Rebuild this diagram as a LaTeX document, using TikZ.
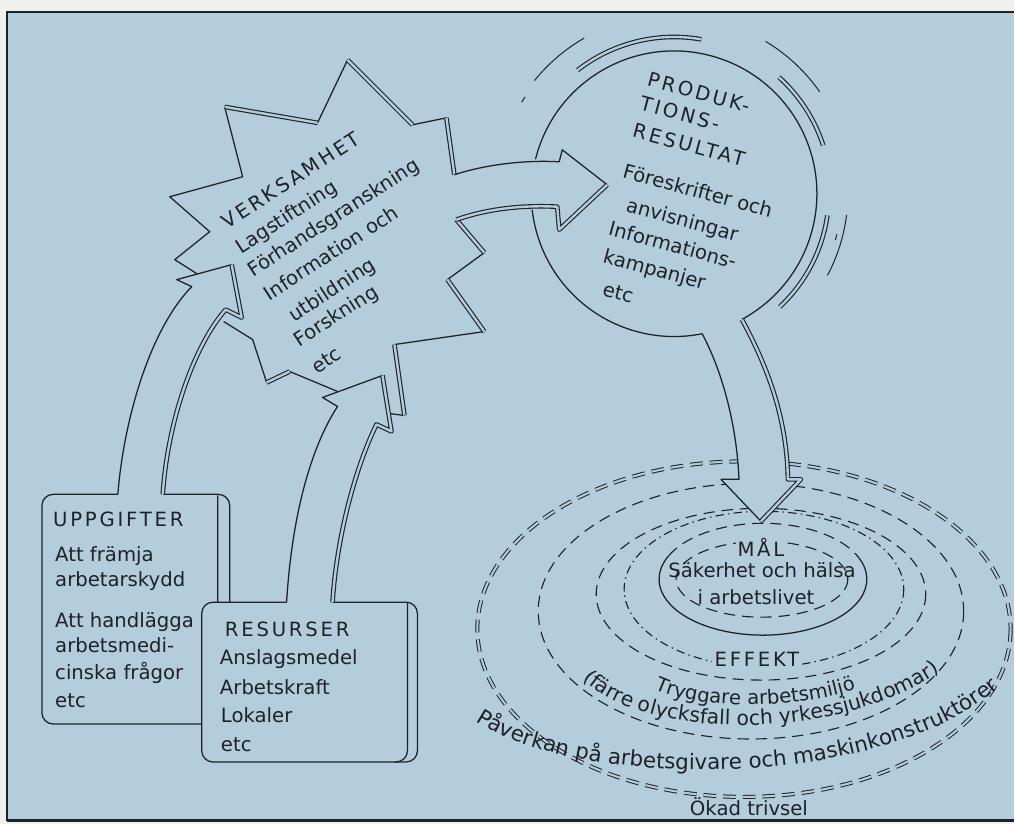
\documentclass[tikz,border=0pt]{standalone}
\usepackage{fontspec}
\setmainfont{DejaVu Sans}
\usetikzlibrary{decorations.text}
\definecolor{paper}{RGB}{240,240,236}
\definecolor{panel}{RGB}{180,205,221}
\definecolor{ink}{RGB}{30,33,38}
\newcommand{\lblfont}{\fontsize{14}{17}\selectfont}
\newcommand{\capfont}{\fontsize{14}{17}\selectfont\addfontfeatures{LetterSpace=14}}
\tikzset{
  outline/.style={draw=ink, line width=0.9pt, line join=round},
  twin/.style={draw=ink, line width=0.8pt, line join=round, double=panel, double distance=1.7pt},
  lbl/.style={text=ink, font=\lblfont, inner sep=0pt, anchor=base west},
  caplbl/.style={lbl, font=\capfont},
  clbl/.style={text=ink, font=\lblfont, inner sep=0pt, anchor=base},
  ringdash/.style={draw=ink, line width=0.8pt, dash pattern=on 8pt off 5pt},
  ringdot/.style={draw=ink, line width=0.8pt, dash pattern=on 6pt off 3pt on 1pt off 3pt},
  ringtwin/.style={draw=ink, line width=0.7pt, double=panel, double distance=1.5pt, dash pattern=on 9pt off 5pt},
  pathtext/.style={decorate, decoration={text along path, text align=left, text={#1}}},
}
\begin{document}
\begin{tikzpicture}[x=0.025cm, y=-0.025cm]
% paper and blue panel
\fill[paper] (0,0) rectangle (1015,825);
\fill[panel] (7,12) rectangle (1015,822);
\draw[ink, line width=1.1pt] (1015,12) -- (7,12) -- (7,822);
\draw[ink, line width=2pt] (7,822) -- (1015,822);

% ---------- concentric rings (effects) ----------
\draw[ringtwin] (745,630) ellipse [x radius=267, y radius=168];
\draw[ringdash] (752,612) ellipse [x radius=213, y radius=128];
\draw[ringdash] (762,595) ellipse [x radius=165, y radius=86];
\draw[ringdot]  (765,590) ellipse [x radius=140, y radius=78];
\draw[ringdash] (763,580) ellipse [x radius=86, y radius=38];
\draw[outline]  (764,580) ++(-25:104 and 56) arc[start angle=-25, end angle=205, x radius=104, y radius=56];
\draw[ringdash] (764,580) ++(205:104 and 56) arc[start angle=205, end angle=335, x radius=104, y radius=56];

% goal
\node[clbl, font=\capfont, fill=panel, inner sep=1pt] (mal) at (762,557) {MÅL};
\node[clbl] (malA) at (763,578) {Säkerhet och hälsa};
\node[clbl] (malB) at (757,605) {i arbetslivet};
% effect
\node[clbl, font=\capfont, fill=panel, inner sep=2pt] (eff) at (758,667) {EFFEKT};
\path[pathtext={|\lblfont\color{ink}|Tryggare arbetsmiljö}]
  (655,690) .. controls (700,712) and (810,712) .. (876,683);
\path[pathtext={|\fontsize{14.5}{17}\selectfont\color{ink}|(färre olycksfall och yrkessjukdomar)}]
  (583,680) .. controls (650,745) and (860,745) .. (960,658);
\path[pathtext={|\fontsize{15.2}{18}\selectfont\color{ink}|Påverkan på arbetsgivare och maskinkonstruktörer}]
  (476,722) .. controls (580,792) and (900,795) .. (1014,676);
\node[clbl] (trivsel) at (750,817) {Ökad trivsel};

% ---------- result circle ----------
\coordinate (cc) at (675,194);
\draw[outline] (cc) ++(194:143) arc[start angle=194, end angle=421.6, radius=143];
\draw[outline] (cc) ++(78.6:143) arc[start angle=78.6, end angle=173.6, radius=143];
% motion arcs round the circle
\draw[outline, line width=0.7pt] (cc) ++(219:180) arc[start angle=219, end angle=240, radius=180];
\draw[outline, line width=0.7pt] (cc) ++(211:178) arc[start angle=211, end angle=213, radius=178];
\draw[twin] (cc) ++(232:157) arc[start angle=232, end angle=280, radius=157];
\draw[outline, line width=0.7pt] (cc) ++(301:178) arc[start angle=301, end angle=325, radius=178];
\draw[twin] (cc) ++(312:157) arc[start angle=312, end angle=342, radius=157];
\draw[twin] (cc) ++(8:155) arc[start angle=8, end angle=47, radius=155];
\draw[outline, line width=0.7pt] (cc) ++(7:174) arc[start angle=7, end angle=28, radius=174];
\draw[outline, line width=0.7pt] (cc) ++(14:168) arc[start angle=14, end angle=16, radius=168];

\begin{scope}[shift={(647,86)}, rotate=-15, transform shape]
  \node[caplbl] (p0) at (0,0) {PRODUK-};
  \node[caplbl] (p1) at (-1,25) {TIONS-};
  \node[caplbl] (p2) at (-1,53) {RESULTAT};
  \node[lbl] (p3) at (0,95) {Föreskrifter och};
  \node[lbl] (p4) at (12,127) {anvisningar};
  \node[lbl] (p5) at (1,154) {Informations-};
  \node[lbl] (p6) at (3,182) {kampanjer};
  \node[lbl] (p7) at (11,214) {etc};
\end{scope}

% ---------- arrow from circle down to the rings ----------
\path[fill=panel] (703,334) .. controls (725,375) and (738,430) .. (740,480) -- (722,480) -- (762,522)
  -- (802,480) -- (789,480) .. controls (788,420) and (770,370) .. (743,320) -- cycle;
\draw[outline] (703,334) .. controls (725,375) and (738,430) .. (740,480) -- (722,480) -- (762,522);
\draw[twin] (762,522) -- (802,480) -- (789,480) .. controls (788,420) and (770,370) .. (743,320);

% ---------- activity star ----------
\draw[outline] (224,322) -- (253,340) -- (267,383) -- (290,372) -- (338,392);
\draw[outline] (389,414) -- (405,416) -- (395,345) -- (485,332) -- (448,280) -- (485,253) -- (457,220);
\draw[outline] (455,175) -- (447,118) -- (413,125) -- (348,60) -- (318,123) -- (225,107)
  -- (243,177) -- (170,197) -- (210,232) -- (175,260) -- (197,274);
\draw[twin] (267,383) -- (290,372);
\draw[twin] (405,416) -- (395,345);
\draw[twin] (485,332) -- (448,280);
\draw[twin] (485,253) -- (457,220);
\draw[twin] (455,175) -- (447,118);
\draw[twin] (413,125) -- (348,60);
\draw[twin] (318,123) -- (225,107);

\begin{scope}[shift={(228,230)}, rotate=33, transform shape]
  \node[caplbl] (v0) at (0,0) {VERKSAMHET};
  \node[lbl] (v1) at (-2,28) {Lagstiftning};
  \node[lbl] (v2) at (-5,54) {Förhandsgranskning};
  \node[lbl] (v3) at (-4,83) {Information och};
  \node[lbl] (v4) at (5,114) {utbildning};
  \node[lbl] (v5) at (-4,138) {Forskning};
  \node[lbl] (v6) at (-4,170) {etc};
\end{scope}

% arrow from the star into the circle
\draw[outline] (455,175) .. controls (485,165) and (525,160) .. (560,162) -- (563,150) -- (608,185);
\draw[twin] (608,185) -- (560,230) -- (558,207) .. controls (520,205) and (485,210) .. (457,220);

% ---------- task box and its arrow ----------
\draw[outline, rounded corners=8] (163,495) -- (230,495) -- (230,725) -- (42,725) -- (42,495) -- (118,495);
\draw[outline, rounded corners=8] (218,496) -- (218,725) -- (205,725);
\draw[outline] (118,495) .. controls (124,420) and (150,330) .. (192,287) -- (177,280) -- (232,265);
\draw[twin] (232,265) -- (242,318) -- (226,310) .. controls (195,345) and (168,420) .. (163,495);

\node[caplbl] (u0) at (53,527) {UPPGIFTER};
\node[lbl] (u1) at (55,562) {Att främja};
\node[lbl] (u2) at (55,587) {arbetarskydd};
\node[lbl] (u3) at (55,628) {Att handlägga};
\node[lbl] (u4) at (55,653) {arbetsmedi-};
\node[lbl] (u5) at (55,680) {cinska frågor};
\node[lbl] (u6) at (55,708) {etc};

% ---------- resource box and its arrow ----------
\draw[outline, fill=panel, rounded corners=8] (333,603) -- (418,603) -- (418,763) -- (202,763) -- (202,603) -- (287,603);
\draw[outline, rounded corners=8] (408,604) -- (408,763) -- (395,763);
\draw[outline] (287,603) .. controls (292,520) and (310,450) .. (338,407) -- (323,398) -- (383,376);
\draw[twin] (383,376) -- (392,432) -- (377,425) .. controls (355,470) and (337,540) .. (333,603);

\node[caplbl] (r0) at (225,637) {RESURSER};
\node[lbl] (r1) at (220,665) {Anslagsmedel};
\node[lbl] (r2) at (220,695) {Arbetskraft};
\node[lbl] (r3) at (221,723) {Lokaler};
\node[lbl] (r4) at (221,753) {etc};
\end{tikzpicture}
\end{document}
